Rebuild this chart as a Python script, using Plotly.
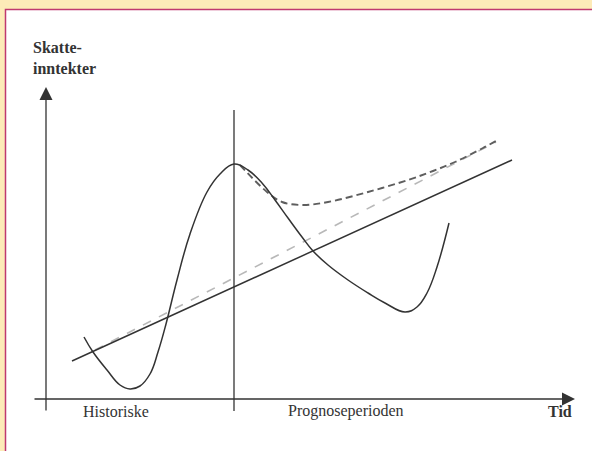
import plotly.graph_objects as go

# conceptual chart: tax revenues over time, history vs forecast period
# units are arbitrary (time index, revenue index)
wave_x = [3.8, 4.7, 6.1, 7.4, 8.4, 9.4, 10.4, 11.2, 12.0, 13.1, 14.4, 16.1, 17.4, 18.8,
          20.2, 21.6, 22.9, 24.2, 25.6, 26.7, 28.2, 30.2, 32.2, 33.9, 35.9, 37.1, 38.1,
          39.1, 40.3]
wave_y = [6.2, 4.7, 2.9, 1.4, 1.0, 1.3, 2.5, 4.7, 7.5, 11.9, 16.5, 20.7, 22.5, 23.5,
          22.9, 21.6, 19.9, 18.1, 16.2, 14.8, 13.4, 11.9, 10.6, 9.6, 8.7, 9.2, 10.6,
          13.2, 17.6]

trend_x = [2.6, 46.6]
trend_y = [3.8, 23.9]

naive_x = [4.9, 45.0]
naive_y = [4.9, 25.7]

forecast_x = [19.4, 22.1, 23.6, 25.6, 28.2, 32.2, 36.2, 38.7, 40.9, 43.7, 45.0]
forecast_y = [23.4, 20.7, 19.7, 19.4, 19.7, 20.7, 21.9, 22.8, 23.7, 25.1, 25.8]

forecast_start = 18.8
period_labels = ["Historiske", "Prognoseperioden"]
period_label_x = [6.95, 30.0]

serif = "Liberation Serif, Times New Roman, serif"
ink = "#333333"

fig = go.Figure()

# split between history and forecast
fig.add_trace(go.Scatter(x=[forecast_start, forecast_start], y=[-1.2, 28.9], mode="lines",
                         line=dict(color=ink, width=1.3), hoverinfo="skip"))
fig.add_trace(go.Scatter(x=naive_x, y=naive_y, mode="lines",
                         line=dict(color="#b8b8b8", width=1.6, dash="dash")))
fig.add_trace(go.Scatter(x=forecast_x, y=forecast_y, mode="lines", line_shape="spline",
                         line=dict(color="#5e5e5e", width=1.9, dash="7px,4px")))
fig.add_trace(go.Scatter(x=trend_x, y=trend_y, mode="lines",
                         line=dict(color=ink, width=1.5)))
fig.add_trace(go.Scatter(x=wave_x, y=wave_y, mode="lines", line_shape="spline",
                         line=dict(color=ink, width=1.5, smoothing=1.2)))

# axes drawn as arrows
fig.add_annotation(x=52.9, y=0, ax=-1.3, ay=0, xref="x", yref="y", axref="x", ayref="y",
                   text="", showarrow=True, arrowhead=2, arrowsize=2, arrowwidth=1.3,
                   arrowcolor=ink)
fig.add_annotation(x=0, y=31.2, ax=0, ay=-1.3, xref="x", yref="y", axref="x", ayref="y",
                   text="", showarrow=True, arrowhead=2, arrowsize=2, arrowwidth=1.3,
                   arrowcolor=ink)

for lab, lx in zip(period_labels, period_label_x):
    fig.add_annotation(x=lx, y=-1.2, text=lab, showarrow=False,
                       font=dict(family=serif, size=16, color=ink))
fig.add_annotation(x=51.35, y=-1.2, text="<b>Tid</b>", showarrow=False,
                   font=dict(family=serif, size=16, color=ink))
fig.add_annotation(x=-1.5, y=34.15, text="<b>Skatte-<br>inntekter</b>", showarrow=False,
                   xanchor="left", align="left",
                   font=dict(family=serif, size=16, color=ink))

# white panel with thin border on the cream page
fig.add_shape(type="rect", xref="paper", yref="paper", x0=5.5 / 592, x1=1.05,
              y0=-0.05, y1=1 - 9.5 / 451, layer="below",
              fillcolor="white", line=dict(color="#c0396f", width=1.5))

fig.update_layout(
    width=592, height=451,
    margin=dict(l=0, r=0, t=0, b=0),
    paper_bgcolor="#fdebb8",
    plot_bgcolor="rgba(0,0,0,0)",
    showlegend=False,
    xaxis=dict(range=[-4.6, 54.6], visible=False),
    yaxis=dict(range=[-5.2, 39.9], visible=False),
)

fig.write_html("out.html", config={"displayModeBar": False},
               post_script="document.body.style.margin='0';")
